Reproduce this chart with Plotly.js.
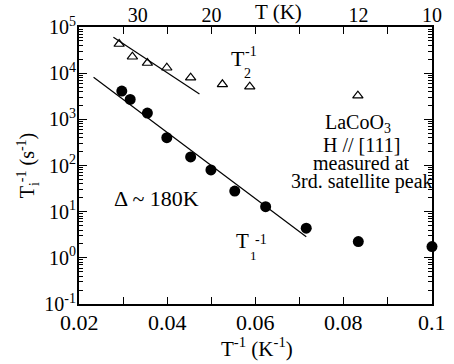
<!DOCTYPE html>
<html>
<head>
<meta charset="utf-8">
<script src="https://cdn.plot.ly/plotly-3.0.1.min.js"></script>
<style>html,body{margin:0;padding:0;background:#fff;}#chart{width:454px;height:364px;}</style>
</head>
<body>
<div id="chart"></div>
<script>
// ---- data ----
const invT1 = [0.0297, 0.0316, 0.0355, 0.0399, 0.0453, 0.0499, 0.0553, 0.0623, 0.0715, 0.0833, 0.1];
const rate1 = [4100, 2700, 1370, 400, 153, 80, 28, 12.8, 4.4, 2.25, 1.75];
const invT2 = [0.0291, 0.0321, 0.0355, 0.0399, 0.0453, 0.0525, 0.0587, 0.0832];
const rate2 = [42800, 22700, 16600, 13100, 8000, 5740, 5090, 3250];
const fit1x = [0.0233, 0.0715];
const fit1y = [8140, 2.87];
const fit2x = [0.0278, 0.0473];
const fit2y = [59800, 3540];
const topT = [30, 20, 12, 10];
const yTickVals = [0.1, 1, 10, 100, 1000, 10000, 100000];
const yTickText = ['10<sup>-1</sup>', '10<sup>0</sup>', '10<sup>1</sup>', '10<sup>2</sup>', '10<sup>3</sup>', '10<sup>4</sup>', '10<sup>5</sup>'];
const xTickVals = [0.02, 0.04, 0.06, 0.08, 0.1];
const xTickText = ['0.02', '0.04', '0.06', '0.08', '0.1'];

const FONT = '"Liberation Serif", "DejaVu Serif", serif';
const W = 454, H = 364, ML = 79, MR = 22, MT = 27, MB = 60;
const PW = W - ML - MR, PH = H - MT - MB;
const px = x => (x - ML) / PW;
const py = y => (PH + MT - y) / PH;

// minor tick positions on the log axis (2..9 within each decade)
const minorVals = [];
for (let k = -1; k < 5; k++) for (let d = 2; d <= 9; d++) minorVals.push(d * Math.pow(10, k));

const traces = [
  {x: fit1x, y: fit1y, mode: 'lines', line: {color: 'black', width: 1.2}, hoverinfo: 'skip'},
  {x: fit2x, y: fit2y, mode: 'lines', line: {color: 'black', width: 1.2}, hoverinfo: 'skip'},
  {x: invT1, y: rate1, mode: 'markers', cliponaxis: false,
   marker: {symbol: 'circle', size: 11, color: 'black'}},
  {x: invT2, y: rate2, mode: 'markers', cliponaxis: false,
   marker: {symbol: 'triangle-up-open', size: 9, color: 'black', line: {width: 1.2, color: 'black'}}},
  {x: topT.map(t => 1 / t), y: [1, 1, 1, 1], xaxis: 'x2', mode: 'markers',
   marker: {opacity: 0}, hoverinfo: 'skip'}
];

function ann(text, x, y, size, extra) {
  return Object.assign({text: text, xref: 'paper', yref: 'paper', x: px(x), y: py(y),
    showarrow: false, xanchor: 'center', yanchor: 'middle',
    font: {family: FONT, size: size, color: 'black'}}, extra || {});
}

const layout = {
  width: W, height: H,
  margin: {l: ML, r: MR, t: MT, b: MB},
  paper_bgcolor: 'white', plot_bgcolor: 'white',
  showlegend: false,
  font: {family: FONT, color: 'black'},
  xaxis: {
    range: [0.02, 0.1], showgrid: false, zeroline: false,
    showline: true, linewidth: 2, linecolor: 'black', mirror: 'ticks',
    ticks: 'inside', ticklen: 7, tickwidth: 1.2, tickcolor: 'black', dtick: 0.01, tick0: 0.02,
    tickmode: 'linear', showticklabels: false
  },
  xaxis2: {
    overlaying: 'x', side: 'top', anchor: 'y', range: [0.02, 0.1],
    showgrid: false, zeroline: false, showline: false,
    tickmode: 'array', tickvals: topT.map(t => 1 / t), ticktext: topT.map(String),
    ticks: '', tickfont: {family: FONT, size: 20, color: 'black'}
  },
  yaxis: {
    type: 'log', range: [-1, 5], showgrid: false, zeroline: false,
    showline: true, linewidth: 2, linecolor: 'black', mirror: 'ticks',
    ticks: 'inside', ticklen: 8, tickwidth: 1.2, tickcolor: 'black',
    tickmode: 'array', tickvals: yTickVals, ticktext: yTickText,
    ticklabelstandoff: -3,
    tickfont: {family: FONT, size: 20, color: 'black'},
    minor: {tickmode: 'array', tickvals: minorVals, ticks: 'inside', ticklen: 4, tickwidth: 1, tickcolor: 'black', showgrid: false},
    title: {text: 'T<sub>i</sub><sup>-1</sup> (s<sup>-1</sup>)', font: {family: FONT, size: 20, color: 'black'}, standoff: 4}
  },
  annotations: [
    // bottom tick labels
    ...xTickVals.map((v, i) => ({text: xTickText[i], xref: 'x', yref: 'paper', x: v, y: 0,
      yshift: -4, yanchor: 'top', xanchor: 'center', showarrow: false,
      font: {family: FONT, size: 22, color: 'black'}})),
    ann('T<sup>-1</sup> (K<sup>-1</sup>)', 257, 347, 21),
    ann('T (K)', 278, 12, 21),
    ann('T', 238, 59, 22),
    ann('2', 247, 73, 14),
    ann('-1', 251, 51, 14),
    ann('T', 242, 241, 21),
    ann('1', 253, 255, 13),
    ann('-1', 261, 239, 14),
    ann('Δ ~ 180K', 156, 199, 22),
    ann('LaCoO<sub>3</sub>', 358, 123, 20),
    ann('H // [111]', 361, 145, 20),
    ann('measured at', 361, 163, 20),
    ann('3rd. satellite peak', 362, 181, 20)
  ]
};

Plotly.newPlot('chart', traces, layout, {staticPlot: true, displayModeBar: false});
</script>
</body>
</html>
